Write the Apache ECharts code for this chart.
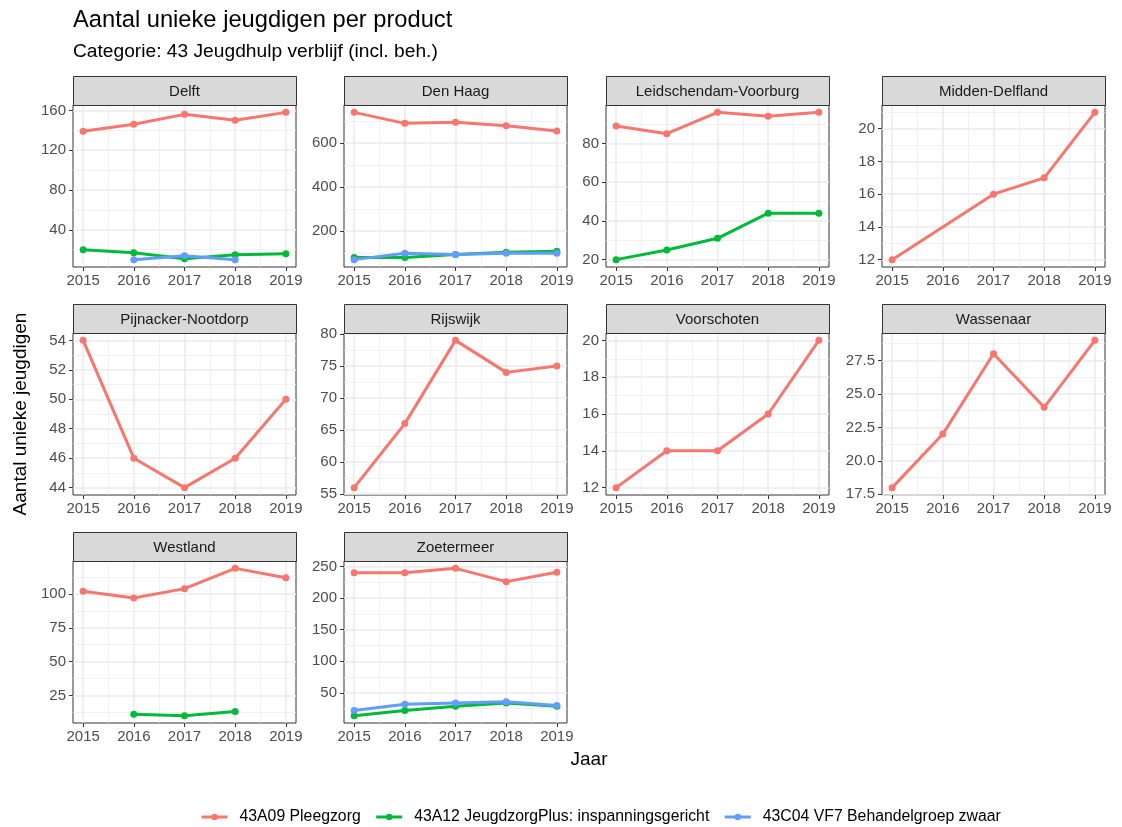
<!DOCTYPE html>
<html>
<head>
<meta charset="utf-8">
<script src="https://cdn.jsdelivr.net/npm/echarts@6/dist/echarts.min.js"></script>
<style>html,body{margin:0;padding:0;background:#fff}#chart{width:1122px;height:827px}</style>
</head>
<body>
<div id="chart"></div>
<script>
// ---------- DATA ----------
const years = [2015, 2016, 2017, 2018, 2019];
const gemeenten = ['Delft', 'Den Haag', 'Leidschendam-Voorburg', 'Midden-Delfland',
  'Pijnacker-Nootdorp', 'Rijswijk', 'Voorschoten', 'Wassenaar', 'Westland', 'Zoetermeer'];
const products = ['43A09 Pleegzorg', '43A12 JeugdzorgPlus: inspanningsgericht', '43C04 VF7 Behandelgroep zwaar'];

// one row per gemeente (same order as gemeenten), one value per year
const pleegzorg = [
  [139, 146, 156, 150, 158],
  [740, 690, 695, 679, 655],
  [89, 85, 96, 94, 96],
  [12, null, 16, 17, 21],
  [54, 46, 44, 46, 50],
  [56, 66, 79, 74, 75],
  [12, 14, 14, 16, 20],
  [18, 22, 28, 24, 29],
  [102, 97, 104, 119, 112],
  [240, 240, 247, 226, 241]
];
const jeugdzorgPlus = [
  [20, 17, 11, 15, 16],
  [81, 81, 94, 104, 109],
  [20, 25, 31, 44, 44],
  null, null, null, null, null,
  [null, 11, 10, 13, null],
  [14, 22, 29, 34, 29]
];
const behandelgroep = [
  [null, 10, 14, 10, null],
  [71, 100, 94, 100, 100],
  null, null, null, null, null, null, null,
  [22, 32, 34, 36, 30]
];
// y tick labels per panel
const yTicks = [
  [40, 80, 120, 160],
  [200, 400, 600],
  [20, 40, 60, 80],
  [12, 14, 16, 18, 20],
  [44, 46, 48, 50, 52, 54],
  [55, 60, 65, 70, 75, 80],
  [12, 14, 16, 18, 20],
  [17.5, 20, 22.5, 25, 27.5],
  [25, 50, 75, 100],
  [50, 100, 150, 200, 250]
];
const xTicks = years;

// ---------- STYLE / LAYOUT ----------
const colors = ['#F8766D', '#00BA38', '#619CFF'];
const FONT = "'Liberation Sans', Arial, Helvetica, sans-serif";
const colLeft = [73, 344, 606, 882];
const panelW = 223;
const rowTop = [76, 304, 532];
const stripH = 29;
const plotH = 162;
const gridCol = '#EBEBEB';

const productData = [pleegzorg, jeugdzorgPlus, behandelgroep];

function minorsOf(majors, lo, hi) {
  const step = majors.length > 1 ? majors[1] - majors[0] : 1;
  const out = [];
  for (let v = majors[0] - step / 2; v <= majors[majors.length - 1] + step / 2 + 1e-9; v += step) {
    if (v >= lo && v <= hi) out.push(+v.toFixed(6));
  }
  return out;
}

const grids = [], xAxes = [], yAxes = [], series = [], graphics = [];
const xMin = years[0] - 0.05 * (years[years.length - 1] - years[0]);
const xMax = years[years.length - 1] + 0.05 * (years[years.length - 1] - years[0]);
const xMinor = minorsOf(xTicks, xMin, xMax);

gemeenten.forEach((g, i) => {
  const r = Math.floor(i / 4), c = i % 4;
  const left = colLeft[c], top = rowTop[r] + stripH;
  grids.push({
    left: left, top: top, width: panelW, height: plotH,
    show: true, borderColor: '#333333', borderWidth: 1, backgroundColor: '#ffffff',
    containLabel: false, outerBoundsMode: 'none'
  });
  const vals = [];
  productData.forEach(pd => { if (pd[i]) pd[i].forEach(v => { if (v != null) vals.push(v); }); });
  const lo = Math.min(...vals), hi = Math.max(...vals);
  const yMin = lo - 0.05 * (hi - lo), yMax = hi + 0.05 * (hi - lo);
  const majors = yTicks[i];
  const dec = majors.some(v => Math.round(v) !== v) ? 1 : 0;
  const yMinor = minorsOf(majors, yMin, yMax);

  xAxes.push({
    gridIndex: i, type: 'value', min: xMin, max: xMax, position: 'top',
    axisLine: { show: false }, axisLabel: { show: false },
    axisTick: { show: false, customValues: xMinor },
    splitLine: { show: true, lineStyle: { color: gridCol, width: 0.7 } }, z: 0
  });
  yAxes.push({
    gridIndex: i, type: 'value', min: yMin, max: yMax, position: 'right',
    axisLine: { show: false }, axisLabel: { show: false },
    axisTick: { show: false, customValues: yMinor },
    splitLine: { show: true, lineStyle: { color: gridCol, width: 0.7 } }, z: 0
  });
  xAxes.push({
    gridIndex: i, type: 'value', min: xMin, max: xMax, position: 'bottom',
    axisLine: { show: false },
    axisTick: { show: true, customValues: xTicks, length: 4, lineStyle: { color: '#333333', width: 1 } },
    axisLabel: { customValues: xTicks, color: '#4D4D4D', fontSize: 15, fontFamily: FONT, margin: 6,
      formatter: v => String(v) },
    splitLine: { show: true, lineStyle: { color: gridCol, width: 1.5 } }, z: 1
  });
  yAxes.push({
    gridIndex: i, type: 'value', min: yMin, max: yMax, position: 'left',
    axisLine: { show: false },
    axisTick: { show: true, customValues: majors, length: 4, lineStyle: { color: '#333333', width: 1 } },
    axisLabel: { customValues: majors, color: '#4D4D4D', fontSize: 15, fontFamily: FONT, margin: 7,
      formatter: v => v.toFixed(dec) },
    splitLine: { show: true, lineStyle: { color: gridCol, width: 1.5 } }, z: 1
  });

  productData.forEach((pd, p) => {
    if (!pd[i]) return;
    const data = [];
    years.forEach((y, k) => { if (pd[i][k] != null) data.push([y, pd[i][k]]); });
    series.push({
      type: 'line', name: products[p], xAxisIndex: 2 * i + 1, yAxisIndex: 2 * i + 1,
      data: data, color: colors[p], symbol: 'circle', symbolSize: 7, showSymbol: true,
      lineStyle: { width: 3, color: colors[p] }, itemStyle: { color: colors[p] },
      emphasis: { disabled: true }, silent: true, z: 3 + p, clip: false
    });
  });

  graphics.push({
    type: 'rect', shape: { x: left + 0.5, y: rowTop[r] + 0.5, width: panelW, height: stripH },
    style: { fill: '#D9D9D9', stroke: '#333333', lineWidth: 1 }, z: 10
  });
  graphics.push({
    type: 'text', x: left + panelW / 2, y: rowTop[r] + stripH / 2 + 1,
    style: { text: g, fill: '#1A1A1A', font: '15px ' + FONT, textAlign: 'center', textVerticalAlign: 'middle' }, z: 11
  });
});

graphics.push({
  type: 'text', x: 589, y: 760,
  style: { text: 'Jaar', fill: '#000', font: '19px ' + FONT, textAlign: 'center', textVerticalAlign: 'middle' }
});
graphics.push({
  type: 'text', x: 21, y: 414, rotation: Math.PI / 2,
  style: { text: 'Aantal unieke jeugdigen', fill: '#000', font: '19px ' + FONT, textAlign: 'center', textVerticalAlign: 'middle' }
});

const option = {
  animation: false,
  backgroundColor: '#ffffff',
  title: [
    { text: 'Aantal unieke jeugdigen per product', left: 73, top: 8, padding: 0,
      textStyle: { fontSize: 23.7, fontWeight: 'normal', color: '#000', fontFamily: FONT } },
    { text: 'Categorie: 43 Jeugdhulp verblijf (incl. beh.)', left: 73, top: 42, padding: 0,
      textStyle: { fontSize: 19.2, fontWeight: 'normal', color: '#000', fontFamily: FONT } }
  ],
  legend: {
    data: products, top: 809, left: 200, padding: 0, itemWidth: 26, itemHeight: 8, itemGap: 14,
    lineStyle: { width: 3 },
    textStyle: { fontSize: 15.8, color: '#000', fontFamily: FONT, padding: [0, 0, 0, 7] },
    selectedMode: false
  },
  grid: grids, xAxis: xAxes, yAxis: yAxes, series: series, graphic: graphics
};

const chart = echarts.init(document.getElementById('chart'), null, { renderer: 'canvas' });
chart.setOption(option);
</script>
</body>
</html>
